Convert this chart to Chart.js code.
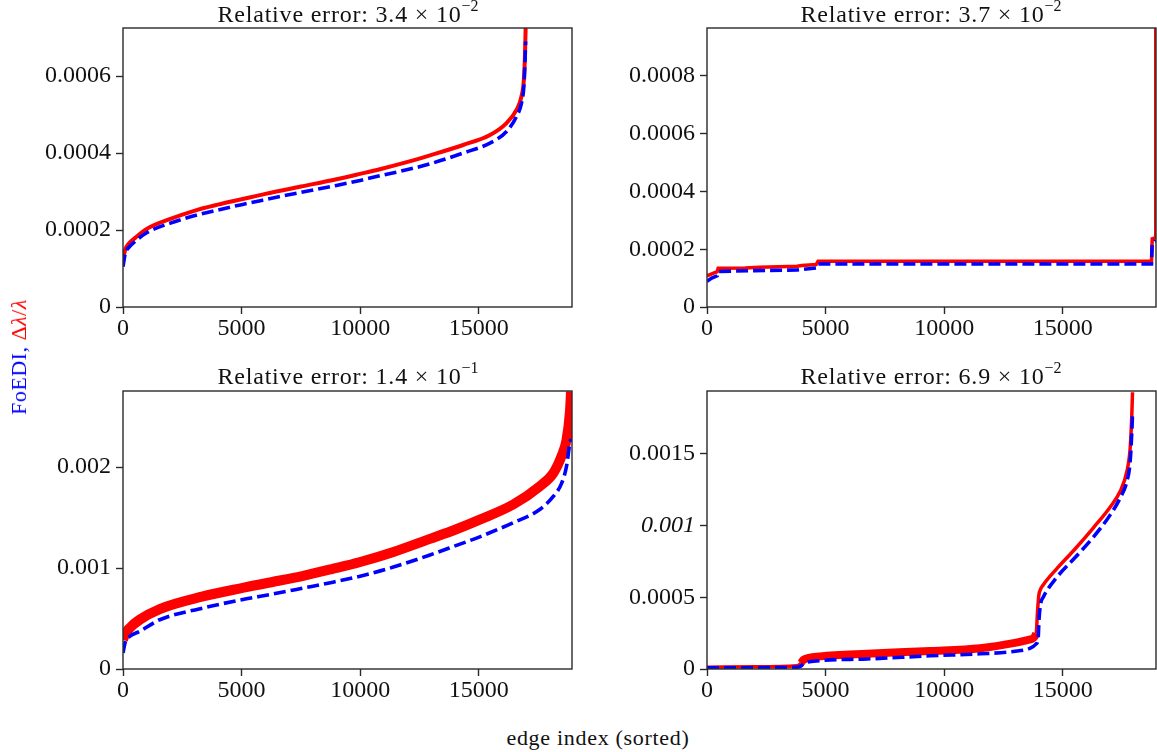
<!DOCTYPE html>
<html>
<head>
<meta charset="utf-8">
<script src="https://cdn.jsdelivr.net/npm/chart.js@4.4.0/dist/chart.umd.min.js"></script>
<style>
body{margin:0;background:#fff;}
#fig{position:relative;width:1157px;height:752px;overflow:hidden;font-family:"Liberation Serif",serif;color:#111;}
canvas{position:absolute;}
.ttl{position:absolute;font-size:24px;line-height:1;white-space:nowrap;transform:translateX(-50%);letter-spacing:0.8px;}
.ttl sup{font-size:16px;line-height:0;position:relative;top:-2px;letter-spacing:0;}
#xlab{position:absolute;left:598px;top:727px;transform:translateX(-50%);font-size:22px;line-height:1;letter-spacing:0.7px;white-space:nowrap;}
#ylab{position:absolute;left:19px;top:357px;transform:translate(-50%,-50%) rotate(-90deg);font-size:22px;line-height:1;white-space:nowrap;letter-spacing:0.5px;}
</style>
</head>
<body>
<div id="fig">
<canvas id="tl" width="580" height="340" style="left:0;top:0"></canvas>
<canvas id="tr" width="577" height="340" style="left:580px;top:0"></canvas>
<canvas id="bl" width="580" height="340" style="left:0;top:360px"></canvas>
<canvas id="br" width="577" height="340" style="left:580px;top:360px"></canvas>
<div class="ttl" style="left:348px;top:2px">Relative error: 3.4 &times; 10<sup>&minus;2</sup></div>
<div class="ttl" style="left:931px;top:2px">Relative error: 3.7 &times; 10<sup>&minus;2</sup></div>
<div class="ttl" style="left:348px;top:364px">Relative error: 1.4 &times; 10<sup>&minus;1</sup></div>
<div class="ttl" style="left:931px;top:364px">Relative error: 6.9 &times; 10<sup>&minus;2</sup></div>
<div id="ylab"><span style="color:#0000ff">FoEDI, </span><span style="color:#ff0000">&Delta;<i>&lambda;</i>/<i>&lambda;</i></span></div>
<div id="xlab">edge index (sorted)</div>
</div>
<script>
// shared x range (edge index)
const xMax = 18930;
const xTicks = [0, 5000, 10000, 15000];
const xLabels = ["0", "5000", "10000", "15000"];

// top left
const tlIdx = [0, 100, 250, 500, 1000, 2000, 3000, 4000, 5000, 6000, 7500, 9000, 10000, 10830, 12000, 12940, 14340, 15470, 16170, 16590, 16800, 16900, 16950, 16975];
const tlRed = [0.000125, 0.00015, 0.000165, 0.000179, 0.000203, 0.000229, 0.00025, 0.000266, 0.00028, 0.000294, 0.000313, 0.000332, 0.000346, 0.000358, 0.000377, 0.000394, 0.000421, 0.000447, 0.000478, 0.000512, 0.000547, 0.00059, 0.00066, 0.000725];
const tlBlue = [0.000105, 0.00014, 0.000155, 0.00017, 0.000193, 0.000218, 0.000237, 0.000252, 0.000266, 0.000279, 0.000298, 0.000316, 0.000329, 0.000341, 0.000357, 0.000372, 0.0004, 0.000426, 0.000456, 0.000495, 0.00053, 0.000573, 0.00064, 0.00069];
const tlTicks = [0, 0.0002, 0.0004, 0.0006];
const tlLabels = ["0", "0.0002", "0.0004", "0.0006"];

// top right (step-like)
const trRedIdx = [0, 200, 430, 470, 1600, 2200, 3800, 4000, 4600, 4680, 18740, 18770, 18905, 18920];
const trRed = [0.000108, 0.000115, 0.000122, 0.000134, 0.000135, 0.000138, 0.000141, 0.000144, 0.000147, 0.000158, 0.000158, 0.000236, 0.00024, 0.00097];
const trBlueIdx = [0, 200, 430, 470, 2000, 3800, 4600, 4680, 18740, 18770, 18880, 18900];
const trBlue = [0.000089, 0.0001, 0.000108, 0.000123, 0.000126, 0.000128, 0.000135, 0.000149, 0.000149, 0.000222, 0.000228, 0.000233];
const trTicks = [0, 0.0002, 0.0004, 0.0006, 0.0008];
const trLabels = ["0", "0.0002", "0.0004", "0.0006", "0.0008"];

// bottom left
const blIdx = [0, 100, 280, 700, 1550, 3370, 5000, 6300, 7600, 8800, 10000, 11400, 12940, 14000, 15040, 16450, 17570, 18140, 18490, 18700, 18840, 18890];
const blRed = [0.00029, 0.00035, 0.000406, 0.000488, 0.000594, 0.000719, 0.000802, 0.000862, 0.000924, 0.00099, 0.00106, 0.00116, 0.00129, 0.00138, 0.00148, 0.00163, 0.00181, 0.00194, 0.00211, 0.00227, 0.00254, 0.00275];
const blBlue = [0.00016, 0.00027, 0.000323, 0.000372, 0.000488, 0.000604, 0.000686, 0.000742, 0.000802, 0.000858, 0.00092, 0.00101, 0.00113, 0.00122, 0.00131, 0.00145, 0.00158, 0.00171, 0.00184, 0.00201, 0.00224, 0.00228];
const blTicks = [0, 0.001, 0.002];
const blLabels = ["0", "0.001", "0.002"];

// bottom right
const brRedIdx = [0, 2000, 3800, 3950, 4070, 4775, 6740, 9410, 11520, 12920, 13630, 13880, 13930, 13990, 14060, 14180, 14750, 15450, 16290, 17000, 17420, 17700, 17840, 17910, 17940];
const brRed = [0.000012, 0.000015, 0.000022, 0.00004, 0.000065, 0.000088, 0.000107, 0.000125, 0.000145, 0.00018, 0.000207, 0.000249, 0.000387, 0.000515, 0.000555, 0.000588, 0.0007, 0.000825, 0.000985, 0.00113, 0.00124, 0.001377, 0.001539, 0.001769, 0.00193];
const brBlueIdx = [0, 3800, 3950, 4070, 4775, 6740, 9410, 11520, 12920, 13630, 13880, 13960, 14000, 14060, 14180, 14750, 15450, 16290, 17000, 17420, 17700, 17840, 17910, 17940];
const brBlue = [0.000008, 0.000012, 0.00002, 0.000037, 0.000058, 0.00007, 0.000092, 0.000106, 0.000122, 0.000145, 0.000175, 0.00021, 0.00035, 0.00045, 0.000502, 0.00064, 0.000765, 0.00092, 0.001075, 0.001193, 0.001308, 0.001446, 0.001654, 0.00178];
const brTicks = [0, 0.0005, 0.001, 0.0015];
const brLabels = ["0", "0.0005", "0.001", "0.0015"];

const FONT = "'Liberation Serif', serif";
const INK = "#111";
const AXIS = "#2a2a2a";

function pts(xs, ys){
  return xs.map((x, i) => ({x: x, y: ys[i]}));
}

// box around the plot area, like matplotlib spines
const frame = {
  id: "frame",
  afterDraw(c){
    let a = c.chartArea, g = c.ctx;
    g.save();
    g.strokeStyle = AXIS;
    g.lineWidth = 1.4;
    g.strokeRect(a.left, a.top, a.right - a.left, a.bottom - a.top);
    g.restore();
  }
};

function panel(id, o){
  return new Chart(document.getElementById(id), {
    type: "line",
    data: {
      datasets: [
        {
          data: pts(o.blueIdx, o.blue),
          borderColor: "#0000ff",
          borderWidth: 3.6,
          borderDash: [12, 5],
          pointRadius: 0,
          tension: 0,
          cubicInterpolationMode: o.smooth ? "monotone" : "default"
        },
        {
          data: pts(o.redIdx, o.red),
          borderColor: "#ff0000",
          borderWidth: o.redWidth,
          pointRadius: 0,
          tension: 0,
          cubicInterpolationMode: o.smooth ? "monotone" : "default",
          segment: o.redSeg ? {borderWidth: o.redSeg} : undefined
        }
      ]
    },
    options: {
      responsive: false,
      animation: false,
      devicePixelRatio: 1,
      layout: {autoPadding: false, padding: {top: o.padTop, right: o.padRight, left: 0, bottom: 0}},
      plugins: {legend: {display: false}, tooltip: {enabled: false}},
      scales: {
        x: {
          type: "linear",
          min: 0,
          max: xMax,
          afterBuildTicks: s => { s.ticks = xTicks.map(v => ({value: v})); },
          afterFit: s => { s.height = o.xH; },
          border: {display: false},
          grid: {drawOnChartArea: false, tickLength: 7, color: AXIS, tickWidth: 1.4},
          ticks: {
            autoSkip: false, maxRotation: 0, padding: 0, color: INK,
            font: {family: FONT, size: 24},
            callback: (v, i) => xLabels[i]
          }
        },
        y: {
          type: "linear",
          min: 0,
          max: o.yMax,
          afterBuildTicks: s => { s.ticks = o.yTicks.map(v => ({value: v})); },
          afterFit: s => { s.width = o.yW; },
          border: {display: false},
          grid: {drawOnChartArea: false, tickLength: 7, color: AXIS, tickWidth: 1.4},
          ticks: {
            padding: 5, color: INK,
            font: ctx => ({family: FONT, size: 24, style: (o.italic && ctx.tick && ctx.tick.value === o.italic) ? "italic" : "normal"}),
            callback: (v, i) => o.yLabels[i]
          }
        }
      }
    },
    plugins: [frame]
  });
}

panel("tl", {
  redIdx: tlIdx, red: tlRed, blueIdx: tlIdx, blue: tlBlue,
  yMax: 0.000725, yTicks: tlTicks, yLabels: tlLabels,
  yW: 123, xH: 33, padTop: 28, padRight: 8, redWidth: 4, smooth: true
});

panel("tr", {
  redIdx: trRedIdx, red: trRed, blueIdx: trBlueIdx, blue: trBlue,
  yMax: 0.000966, yTicks: trTicks, yLabels: trLabels,
  yW: 127, xH: 33, padTop: 28, padRight: 1, redWidth: 3.5, smooth: false
});

panel("bl", {
  redIdx: blIdx, red: blRed, blueIdx: blIdx, blue: blBlue,
  yMax: 0.002755, yTicks: blTicks, yLabels: blLabels,
  yW: 123, xH: 31, padTop: 31, padRight: 8, redWidth: 10, smooth: true
});

panel("br", {
  redIdx: brRedIdx, red: brRed, blueIdx: brBlueIdx, blue: brBlue,
  yMax: 0.001939, yTicks: brTicks, yLabels: brLabels, italic: 0.001,
  yW: 127, xH: 31, padTop: 31, padRight: 1, redWidth: 3.5, smooth: true,
  // noisy band between the two jumps is drawn wider
  redSeg: ctx => (ctx.p0.parsed.x >= 3950 && ctx.p1.parsed.x <= 13880) ? 8 : 3.5
});
</script>
</body>
</html>
